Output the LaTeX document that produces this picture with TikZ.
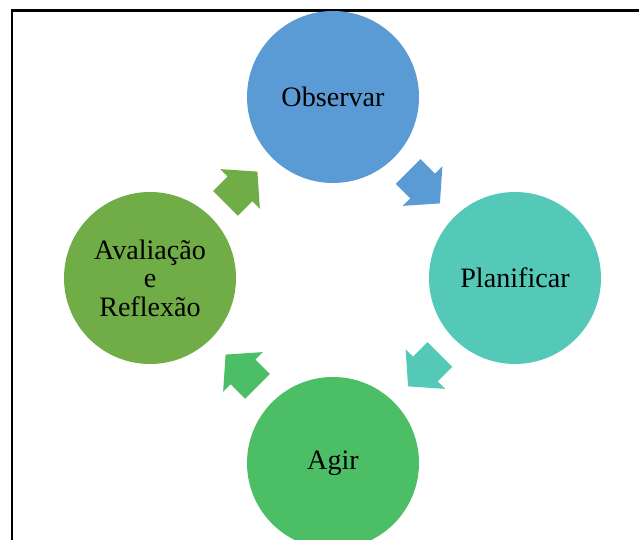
\documentclass[tikz,border=0pt]{standalone}
\usepackage{fontspec}
\setmainfont{Liberation Serif}
\usetikzlibrary{calc}

\definecolor{obsblue}{RGB}{91,155,213}
\definecolor{planteal}{RGB}{84,201,184}
\definecolor{agirgreen}{RGB}{76,190,101}
\definecolor{avalolive}{RGB}{112,173,71}

\begin{document}
\begin{tikzpicture}[
  stage/.style={circle, minimum size=3.44cm, inner sep=0pt, align=center,
    font=\fontsize{16}{16.2}\selectfont},
  cyclearrow/.pic={
    \fill[#1] (-0.45,-0.35) -- (-0.04,-0.35) -- (-0.04,-0.56) -- (0.45,0)
      -- (-0.04,0.56) -- (-0.04,0.35) -- (-0.45,0.35) -- cycle;
  }
]
  % page, cut at the right and bottom like the original
  \useasboundingbox (0,0) rectangle (12.78,10.8);
  \clip (0,0) rectangle (12.78,10.8);
  % frame
  \draw[line width=1.7pt] (0.24,-1) rectangle (14,10.59);
  % the four stages
  \node[stage, fill=obsblue] (obs) at (6.66,8.86) {Observar};
  \node[stage, fill=planteal] (plan) at (10.30,5.24) {Planificar};
  \node[stage, fill=agirgreen] (agir) at (6.66,1.54) {Agir};
  \node[stage, fill=avalolive] (aval) at (3.00,5.24) {Avaliação\\e\\Reflexão};
  % block arrows halfway between the stages
  \pic[rotate=-45] at ($(obs)!0.5!(plan)$) {cyclearrow=obsblue};
  \pic[rotate=-135] at ($(plan)!0.5!(agir)$) {cyclearrow=planteal};
  \pic[rotate=135] at ($(agir)!0.5!(aval)$) {cyclearrow=agirgreen};
  \pic[rotate=45] at ($(aval)!0.5!(obs)$) {cyclearrow=avalolive};
\end{tikzpicture}
\end{document}
